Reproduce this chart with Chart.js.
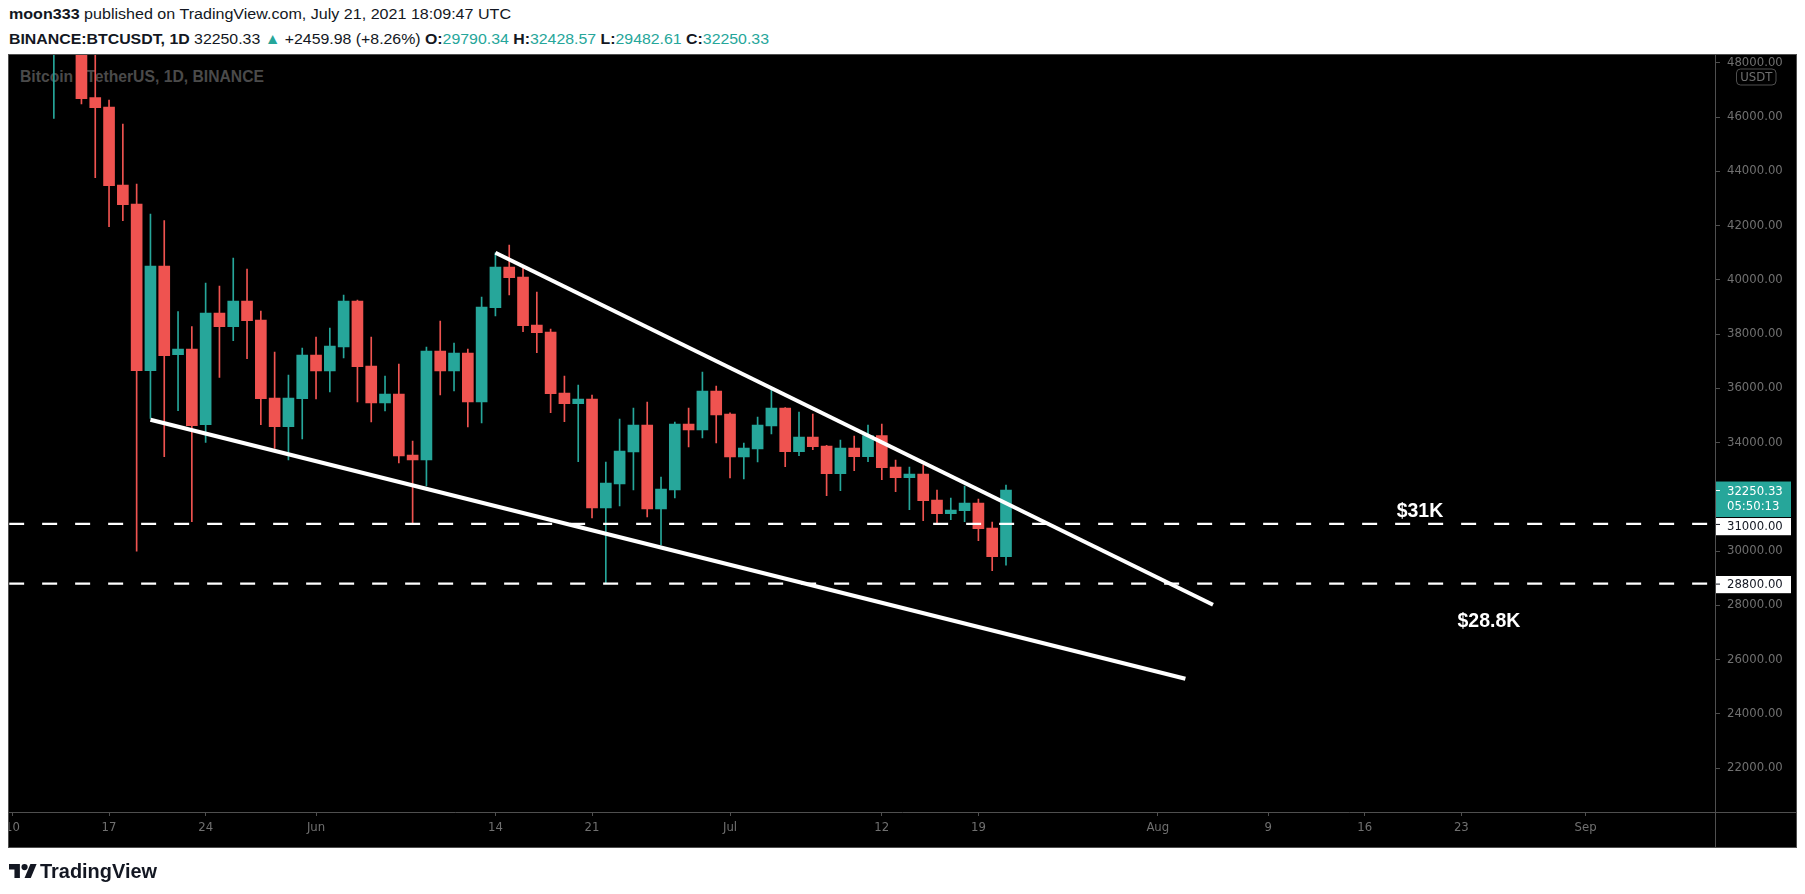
<!DOCTYPE html>
<html><head><meta charset="utf-8">
<script src="https://cdn.jsdelivr.net/npm/chart.js@4.4.1/dist/chart.umd.min.js"></script>
<style>
html,body{margin:0;padding:0;background:#fff;}
body{width:1805px;height:894px;position:relative;overflow:hidden;font-family:"Liberation Sans",Arial,sans-serif;color:#131722;}
.t{position:absolute;white-space:nowrap;transform-origin:0 0;}
#h1{left:9px;top:5px;font-size:15.5px;line-height:18px;}
#h2{left:9px;top:29.5px;font-size:15.5px;line-height:18px;}
.g{color:#26a69a;}
#frame{position:absolute;left:8px;top:54px;width:1787px;height:792px;border:1px solid #4f4f4f;background:#000;}
#wm{left:19.5px;top:67px;font-size:15.6px;line-height:20px;font-weight:bold;color:#4a4a4a;}
#c{position:absolute;left:0;top:0;}
#logo{position:absolute;left:9px;top:864px;}
#lt{left:40px;top:860px;font-size:20px;font-weight:bold;line-height:22px;color:#131722;}
</style></head>
<body>
<div id="h1" class="t"><b>moon333</b> published on TradingView.com, July 21, 2021 18:09:47 UTC</div>
<div id="h2" class="t"><b>BINANCE:BTCUSDT, 1D</b> 32250.33 <span class="g">▲</span> +2459.98 (+8.26%) <b>O:</b><span class="g">29790.34</span> <b>H:</b><span class="g">32428.57</span> <b>L:</b><span class="g">29482.61</span> <b>C:</b><span class="g">32250.33</span></div>
<div id="frame"></div>
<div id="wm" class="t">Bitcoin / TetherUS, 1D, BINANCE</div>
<canvas id="c" width="1805" height="894"></canvas>
<svg id="logo" width="28" height="14" viewBox="0 4 36 18" preserveAspectRatio="none"><path d="M14 22H7V11H0V4h14v18z" fill="#131722"/><circle cx="20" cy="8" r="4" fill="#131722"/><path d="M28 22h-8l7.5-18h8L28 22z" fill="#131722"/></svg>
<div id="lt" class="t">TradingView</div>
<script>
// ---------- data ----------
const dates = [
 '2021-05-13','2021-05-14','2021-05-15','2021-05-16','2021-05-17','2021-05-18','2021-05-19','2021-05-20','2021-05-21','2021-05-22',
 '2021-05-23','2021-05-24','2021-05-25','2021-05-26','2021-05-27','2021-05-28','2021-05-29','2021-05-30','2021-05-31',
 '2021-06-01','2021-06-02','2021-06-03','2021-06-04','2021-06-05','2021-06-06','2021-06-07','2021-06-08','2021-06-09','2021-06-10',
 '2021-06-11','2021-06-12','2021-06-13','2021-06-14','2021-06-15','2021-06-16','2021-06-17','2021-06-18','2021-06-19','2021-06-20',
 '2021-06-21','2021-06-22','2021-06-23','2021-06-24','2021-06-25','2021-06-26','2021-06-27','2021-06-28','2021-06-29','2021-06-30',
 '2021-07-01','2021-07-02','2021-07-03','2021-07-04','2021-07-05','2021-07-06','2021-07-07','2021-07-08','2021-07-09','2021-07-10',
 '2021-07-11','2021-07-12','2021-07-13','2021-07-14','2021-07-15','2021-07-16','2021-07-17','2021-07-18','2021-07-19','2021-07-20','2021-07-21'
];
const opens = [
 49537,49671,49841,46717,46373,43497,42796,36651,40510,37241,37450,34660,38777,38273,39220,38519,35643,34586,35618,
 37229,36639,37524,39220,36823,35459,35790,33541,33357,37376,36639,37302,35496,38974,40473,40106,38335,38077,35827,35434,
 35606,31587,32472,33652,34647,31550,32251,34684,34463,35901,
 35053,33467,33762,34611,35274,33664,34205,33873,32853,33799,33480,34260,33099,32705,32841,31882,31378,31489,31771,30850,29790.34
];
const highs = [
 51367,51459,50700,49000,46631,45746,43534,42428,42182,38826,38273,39883,39773,40805,40400,38851,37339,36491,37487,
 37892,38224,39441,39257,37892,36454,36897,34057,37524,38482,37671,37450,39367,41000,41285,40500,39552,38187,36454,36122,
 35754,33283,34869,35274,35496,32730,34758,35274,36602,36085,
 35100,33984,34942,35938,35290,35127,35053,33900,34094,34242,34647,34684,33357,33099,33173,32251,31956,32398,31919,31071,32428.57
];
const lows = [
 45955,48870,46484,43767,41960,42182,30000,34893,33480,35176,31083,34008,36405,37757,37093,34660,33787,33357,34131,
 35606,35864,37118,35496,34758,35164,33246,31000,32398,35754,35901,34574,34721,38667,39441,38089,37315,35102,34770,33295,
 31218,28805,31661,32251,31255,30223,31956,33836,34168,33984,
 32693,32656,33283,34316,33111,33517,33738,32042,32226,32964,33295,32632,32189,31525,31120,31046,31157,31083,30382,29276,29482.61
];
const closes = [
 49680,49841,46680,46348,43472,42772,36651,40510,37204,37450,34623,38777,38273,39220,38495,35618,34586,35643,37229,
 36639,37560,39220,36798,35459,35790,33504,33357,37376,36639,37302,35496,38998,40473,40080,38310,38052,35803,35434,35606,
 31587,32509,33689,34647,31550,32288,34684,34463,35901,35016,
 33467,33799,34647,35274,33664,34205,33849,32853,33799,33480,34260,33074,32705,32841,31857,31378,31513,31771,30825,29792,32250.33
];
const priceTicks = [22000,24000,26000,28000,30000,32000,34000,36000,38000,40000,42000,44000,46000,48000];
const timeTickDates = ['2021-05-10','2021-05-17','2021-05-24','2021-06-01','2021-06-14','2021-06-21','2021-07-01','2021-07-12','2021-07-19','2021-08-01','2021-08-09','2021-08-16','2021-08-23','2021-09-01'];
const timeTickLabels = ['10','17','24','Jun','14','21','Jul','12','19','Aug','9','16','23','Sep'];
const upperTrendDates = ['2021-06-14','2021-08-05'];
const upperTrendPrices = [41000, 28020];
const lowerTrendDates = ['2021-05-20','2021-08-03'];
const lowerTrendPrices = [34843, 25293];
const levels = [31000, 28800];
const levelTexts = ['$31K', '$28.8K'];
const levelTextDates = ['2021-08-20', '2021-08-25'];
const levelTextPrices = [31270, 27210];
const countdown = '05:50:13';
const currency = 'USDT';

// ---------- layout / style ----------
const ORIGIN = Date.UTC(2021,4,10);
const dayIdx = s => { const p = s.split('-').map(Number); return (Date.UTC(p[0],p[1]-1,p[2]) - ORIGIN)/86400000; };
const X_MIN = -0.24, X_MAX = 123.38, Y_MIN = 20378, Y_MAX = 48328;
const UP = '#26a69a', DOWN = '#ef5350', AXIS = '#4f4f4f', TXT = '#707070';
const TICKFONT = {family:'DejaVu Sans', size:11.7};
const FRAME = {l:9, t:55, r:1796, b:847};

const xs = dates.map(dayIdx);
const cols = closes.map((c,i) => c >= opens[i] ? UP : DOWN);
const last = closes.length - 1;

const overlay = {
  id:'overlay',
  beforeDraw(chart){
    const c = chart.ctx; c.save();
    c.beginPath(); c.rect(FRAME.l, FRAME.t, FRAME.r-FRAME.l, FRAME.b-FRAME.t); c.clip();
  },
  afterDatasetsDraw(chart){
    const c = chart.ctx, xS = chart.scales.x, yS = chart.scales.y;
    c.save();
    c.font = 'bold 19.5px "Liberation Sans", Arial, sans-serif';
    c.fillStyle = '#ffffff'; c.textAlign = 'center'; c.textBaseline = 'alphabetic';
    levelTexts.forEach((t,i) => c.fillText(t, xS.getPixelForValue(dayIdx(levelTextDates[i])), yS.getPixelForValue(levelTextPrices[i])));
    c.restore();
  },
  afterDraw(chart){
    const c = chart.ctx, yS = chart.scales.y, a = chart.chartArea;
    c.save();
    c.strokeStyle = AXIS; c.lineWidth = 1;
    c.beginPath();
    c.moveTo(a.right+0.5, FRAME.t); c.lineTo(a.right+0.5, FRAME.b);
    c.moveTo(FRAME.l, a.bottom+0.5); c.lineTo(FRAME.r, a.bottom+0.5);
    c.stroke();
    const bx = a.right + 1, bw = 75, tx = a.right + 12;
    c.font = TICKFONT.size + 'px "' + TICKFONT.family + '"';
    c.textAlign = 'left'; c.textBaseline = 'middle';
    // current price box
    const py = yS.getPixelForValue(closes[last]);
    const tTop = py - 8.5, tBot = py + 27;
    c.fillStyle = UP; c.fillRect(bx, tTop, bw, tBot - tTop);
    c.strokeStyle = '#ffffff'; c.beginPath(); c.moveTo(bx, py+0.5); c.lineTo(bx+4, py+0.5); c.stroke();
    c.fillStyle = '#ffffff';
    c.fillText(closes[last].toFixed(2), tx, py + 1.5);
    c.fillText(countdown, tx, py + 17.4);
    // level boxes
    levels.forEach(v => {
      const y = yS.getPixelForValue(v);
      let top = y - 7.6; if (top < tBot + 1 && top > tTop) top = tBot + 1;
      c.fillStyle = '#ffffff'; c.fillRect(bx, top, bw, 17.2);
      c.strokeStyle = '#131722'; c.beginPath(); c.moveTo(bx, y+0.5); c.lineTo(bx+4, y+0.5); c.stroke();
      c.fillStyle = '#131722'; c.fillText(v.toFixed(2), tx, top + 8.6);
    });
    // currency box
    const ux = 1736, uy = 68.5, uw = 39.5, uh = 16;
    c.fillStyle = '#000'; c.strokeStyle = AXIS;
    c.beginPath(); c.roundRect(ux+0.5, uy+0.5, uw, uh, 4); c.fill(); c.stroke();
    c.fillStyle = TXT; c.textAlign = 'center';
    c.fillText(currency, ux + uw/2 + 0.5, uy + uh/2 + 1);
    c.restore();
    c.restore();
  }
};

const lineDs = (pts, w, dash) => ({type:'line', data:pts, borderColor:'#ffffff', borderWidth:w, borderDash:dash||[], pointRadius:0, borderCapStyle:'butt', tension:0, fill:false});

new Chart(document.getElementById('c'), {
  type:'bar',
  data:{ datasets:[
    lineDs(upperTrendDates.map((d,i)=>({x:dayIdx(d), y:upperTrendPrices[i]})), 4),
    lineDs(lowerTrendDates.map((d,i)=>({x:dayIdx(d), y:lowerTrendPrices[i]})), 4),
    ...levels.map(v => lineDs([{x:X_MIN,y:v},{x:X_MAX,y:v}], 2.2, [15,18])),
    {type:'bar', data: xs.map((x,i)=>({x, y:[opens[i], closes[i]]})), backgroundColor:cols, barThickness:11, maxBarThickness:11, grouped:false, borderWidth:0, minBarLength:1},
    {type:'bar', data: xs.map((x,i)=>({x, y:[lows[i], highs[i]]})), backgroundColor:cols, barThickness:1, maxBarThickness:1, grouped:false, borderWidth:0}
  ]},
  options:{
    responsive:false, animation:false, devicePixelRatio:1, events:[],
    layout:{autoPadding:false, padding:{left:9, top:54, right:8, bottom:47}},
    plugins:{legend:{display:false}, tooltip:{enabled:false}},
    scales:{
      x:{type:'linear', min:X_MIN, max:X_MAX, offset:false,
         grid:{display:true, drawOnChartArea:false, drawTicks:true, tickLength:4, color:AXIS, offset:false},
         border:{display:false},
         afterBuildTicks:s=>{ s.ticks = timeTickDates.map(d=>({value:dayIdx(d)})); },
         afterFit:s=>{ s.height = 35; },
         ticks:{autoSkip:false, maxRotation:0, padding:5, color:TXT, font:TICKFONT, callback:(v,i)=>timeTickLabels[i]}},
      y:{type:'linear', position:'right', min:Y_MIN, max:Y_MAX,
         grid:{display:true, drawOnChartArea:false, drawTicks:true, tickLength:5, color:AXIS},
         border:{display:false},
         afterBuildTicks:s=>{ s.ticks = priceTicks.map(v=>({value:v})); },
         afterFit:s=>{ s.width = 82; },
         ticks:{padding:7, color:TXT, font:TICKFONT, callback:v=>Number(v).toFixed(2)}}
    }
  },
  plugins:[overlay]
});

function fit(id, w){ const el = document.getElementById(id); el.style.transform='none'; const r = el.getBoundingClientRect().width; if (r > 0) el.style.transform = 'scaleX(' + (w/r) + ')'; }
fit('h1', 502); fit('h2', 760); fit('wm', 244); fit('lt', 117);
</script>
</body></html>
